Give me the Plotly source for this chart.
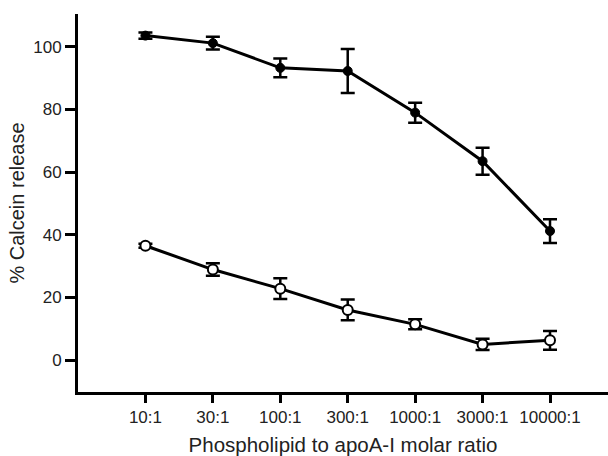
import plotly.graph_objects as go

ratios = ["10:1", "30:1", "100:1", "300:1", "1000:1", "3000:1", "10000:1"]
filled_vals = [103.6, 101.2, 93.3, 92.3, 79.0, 63.5, 41.2]
filled_err = [1.0, 2.0, 3.0, 7.0, 3.2, 4.3, 3.8]
open_vals = [36.5, 28.9, 22.8, 16.0, 11.4, 5.0, 6.3]
open_err = [0.6, 2.0, 3.3, 3.3, 1.6, 1.8, 3.0]

xidx = list(range(len(ratios)))

fig = go.Figure()
fig.add_trace(go.Scatter(
    x=xidx, y=filled_vals, mode="lines+markers",
    line=dict(color="black", width=3),
    marker=dict(symbol="circle", size=9, color="black", line=dict(color="black", width=1)),
    error_y=dict(type="data", array=filled_err, color="black", thickness=2.5, width=7),
    showlegend=False,
))
fig.add_trace(go.Scatter(
    x=xidx, y=open_vals, mode="lines+markers",
    line=dict(color="black", width=3),
    marker=dict(symbol="circle", size=10, color="white", line=dict(color="black", width=2)),
    error_y=dict(type="data", array=open_err, color="black", thickness=2.5, width=7),
    showlegend=False,
))

font_family = "Liberation Sans, Arial, sans-serif"
fig.update_layout(
    width=608, height=456,
    margin=dict(l=78, r=0, t=14, b=64),
    paper_bgcolor="white", plot_bgcolor="white",
    font=dict(family=font_family, color="#222"),
)
fig.update_xaxes(
    range=[-1, 6.86], tickmode="array", tickvals=xidx, ticktext=ratios,
    showgrid=False, zeroline=False, showline=True, linecolor="black", linewidth=3,
    ticks="outside", ticklen=8, tickwidth=3, tickcolor="black",
    tickfont=dict(size=17), automargin=False,
    title=dict(text="Phospholipid to apoA-I molar ratio", font=dict(size=20.5), standoff=12),
)
fig.update_yaxes(
    range=[-10.2, 110.5], tickmode="array", tickvals=[0, 20, 40, 60, 80, 100],
    showgrid=False, zeroline=False, showline=True, linecolor="black", linewidth=3,
    ticks="outside", ticklen=10, tickwidth=3, tickcolor="black",
    tickfont=dict(size=17), automargin=False,
    title=dict(text="% Calcein release", font=dict(size=20), standoff=4),
)

fig.write_html("out.html")
